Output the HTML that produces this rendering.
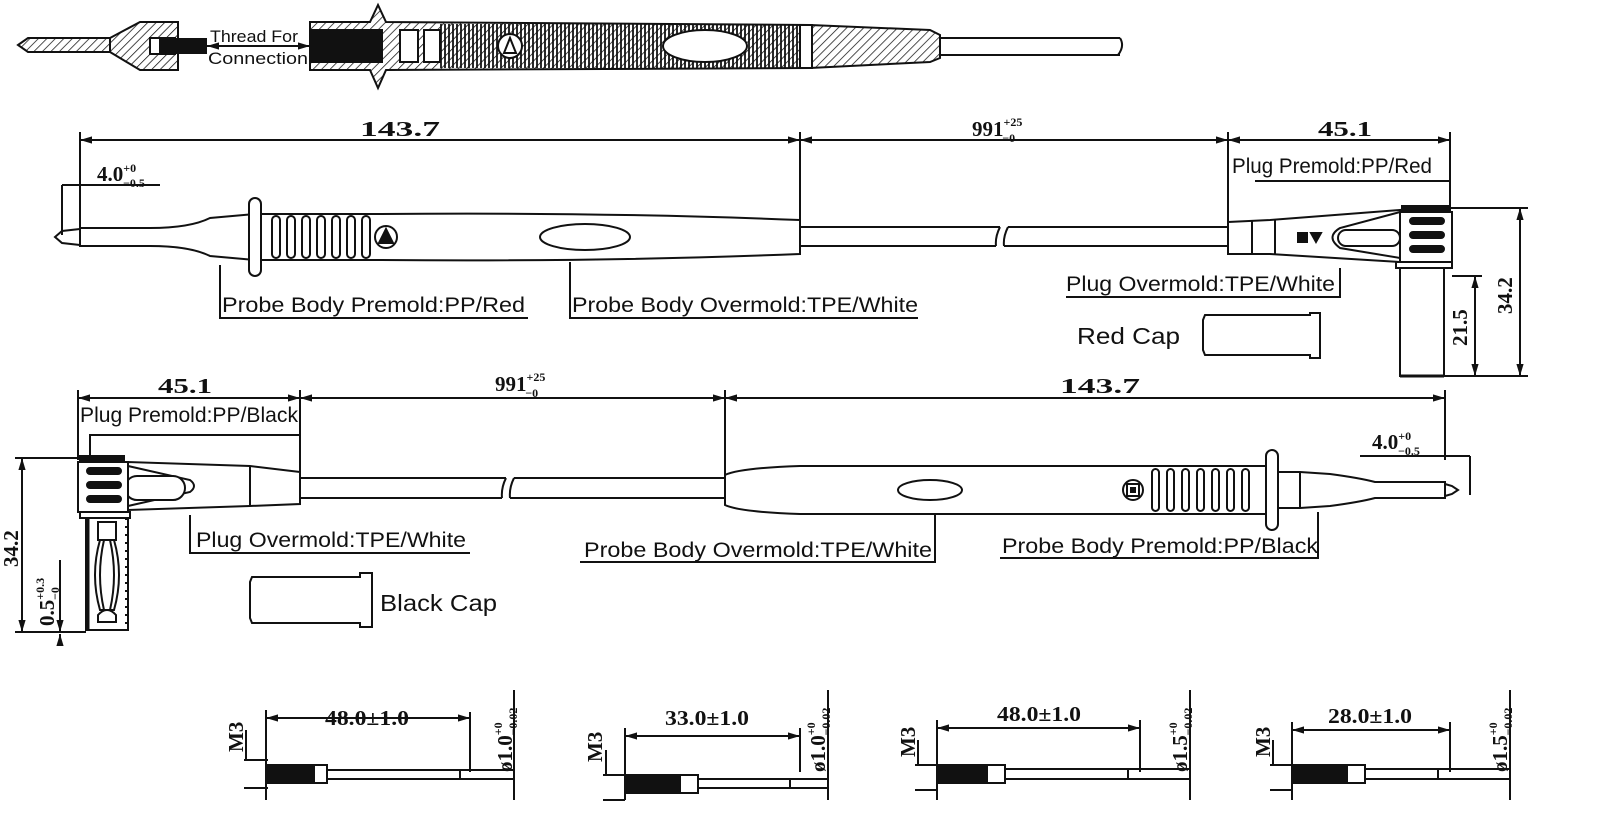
<!DOCTYPE html>
<html><head><meta charset="utf-8"><style>
html,body{margin:0;padding:0;background:#fff;}
svg{display:block;}
.l{font-family:"Liberation Sans",sans-serif;font-size:21px;fill:#111;}
.d{font-family:"Liberation Serif",serif;font-weight:bold;font-size:21px;fill:#111;}
.s{font-family:"Liberation Serif",serif;font-weight:bold;font-size:12px;fill:#111;}
</style></head><body>
<svg width="1600" height="824" viewBox="0 0 1600 824" xmlns="http://www.w3.org/2000/svg">
<defs>
<pattern id="h" width="6" height="6" patternUnits="userSpaceOnUse" patternTransform="rotate(45)"><line x1="0" y1="0" x2="0" y2="6" stroke="#111" stroke-width="1.5"/></pattern>
<pattern id="v" width="4" height="4" patternUnits="userSpaceOnUse"><line x1="1" y1="0" x2="1" y2="4" stroke="#111" stroke-width="1.8"/></pattern>
<marker id="a" viewBox="0 0 10 10" refX="10" refY="5" markerWidth="6" markerHeight="6" orient="auto-start-reverse"><path d="M0,2 L10,5 L0,8z" fill="#111"/></marker>
</defs>
<g fill="none" stroke="#111" stroke-width="2">
<!-- TOP SECTION -->
<path d="M18,45 L28,38 L110,38 L110,52 L28,52 Z" fill="url(#h)"/>
<path d="M110,38 L140,22 L178,22 L178,70 L140,70 L110,52" fill="url(#h)"/>
<rect x="150" y="38" width="25" height="16" fill="#fff"/>
<rect x="160" y="39" width="46" height="14" fill="#111"/>
<line x1="207" y1="46" x2="310" y2="46" marker-start="url(#a)" marker-end="url(#a)"/>
<path d="M310,22 L370,22 L378,5 L386,22 L810,25 L930,30 L940,35 L940,58 L930,62 L810,68 L386,70 L378,88 L370,70 L310,70 Z" fill="url(#h)"/>
<rect x="440" y="24" width="370" height="44" fill="url(#v)" stroke="none"/>
<rect x="312" y="30" width="70" height="32" fill="#111"/>
<rect x="400" y="30" width="18" height="32" fill="#fff"/>
<rect x="424" y="30" width="16" height="32" fill="#fff"/>
<circle cx="510" cy="46" r="12" fill="#fff"/>
<path d="M504,53 L510,38 L516,53Z"/>
<ellipse cx="705" cy="46" rx="42" ry="16" fill="#fff"/>
<rect x="800" y="25" width="12" height="43" fill="#fff"/>
<path d="M940,38 L1120,38 M940,55 L1120,55 M1120,38 Q1125,46 1118,55"/>
</g>
<text class="l" x="210" y="42" style="font-size:17px" textLength="88" lengthAdjust="spacingAndGlyphs">Thread For</text>
<text class="l" x="208" y="64" style="font-size:17px" textLength="100" lengthAdjust="spacingAndGlyphs">Connection</text>

<g fill="none" stroke="#111" stroke-width="2">
<!-- ROW 1 dims -->
<line x1="80" y1="140" x2="800" y2="140" marker-start="url(#a)" marker-end="url(#a)"/>
<line x1="800" y1="140" x2="1228" y2="140" marker-start="url(#a)" marker-end="url(#a)"/>
<line x1="1228" y1="140" x2="1450" y2="140" marker-start="url(#a)" marker-end="url(#a)"/>
<line x1="80" y1="132" x2="80" y2="230"/><line x1="800" y1="132" x2="800" y2="222"/>
<line x1="1228" y1="132" x2="1228" y2="222"/><line x1="1450" y1="132" x2="1450" y2="180"/>
<line x1="62" y1="185" x2="160" y2="185"/><line x1="62" y1="185" x2="62" y2="235"/>
<!-- probe 1 -->
<path d="M55,237 L62,231 L80,229 L80,245 L62,243 Z"/>
<path d="M80,228 L150,228 Q190,228 210,218 L255,214 L255,260 L210,256 Q190,246 150,246 L80,246 Z" fill="#fff"/>
<rect x="249" y="198" width="12" height="78" rx="6" fill="#fff"/>
<path d="M261,214 L380,214 Q600,212 800,220 L800,254 Q600,262 380,260 L261,260 Z" fill="#fff"/>
<g><rect x="272" y="216" width="8" height="42" rx="4"/><rect x="287" y="216" width="8" height="42" rx="4"/><rect x="302" y="216" width="8" height="42" rx="4"/><rect x="317" y="216" width="8" height="42" rx="4"/><rect x="332" y="216" width="8" height="42" rx="4"/><rect x="347" y="216" width="8" height="42" rx="4"/><rect x="362" y="216" width="8" height="42" rx="4"/></g>
<circle cx="386" cy="237" r="11"/><path d="M379,243 L386,229 L393,243Z" fill="#111"/>
<ellipse cx="585" cy="237" rx="45" ry="13"/>
<path d="M800,227 L1000,227 M1008,227 L1228,227 M800,246 L996,246 M1004,246 L1228,246 M1000,227 Q995,237 996,246 M1008,227 Q1003,237 1004,246"/>
<!-- plug 1 -->
<path d="M1228,222 L1270,220 L1400,210 L1400,262 L1270,254 L1228,254 Z" fill="#fff"/>
<line x1="1252" y1="221" x2="1252" y2="254"/><line x1="1275" y1="219" x2="1275" y2="255"/>
<path d="M1400,212 L1340,228 Q1325,237 1340,248 L1400,258"/>
<rect x="1338" y="230" width="62" height="16" rx="8" fill="#fff"/>
<rect x="1400" y="212" width="52" height="50" fill="#fff"/>
<rect x="1402" y="206" width="48" height="6" fill="#111"/>
<rect x="1410" y="218" width="34" height="6" rx="3" fill="#111"/><rect x="1410" y="232" width="34" height="6" rx="3" fill="#111"/><rect x="1410" y="246" width="34" height="6" rx="3" fill="#111"/>
<rect x="1396" y="262" width="56" height="6" fill="#fff"/>
<rect x="1400" y="268" width="44" height="108" fill="#fff"/>
<line x1="1400" y1="376" x2="1444" y2="376" stroke-width="3"/>
<rect x="1298" y="233" width="9" height="9" fill="#111"/><path d="M1311,233 L1321,233 L1316,242Z" fill="#111"/>
<!-- labels row 1 -->
<path d="M220,265 L220,318 L528,318 M570,262 L570,318 L918,318 M1066,297 L1340,297 L1340,268 M1255,181 L1450,181 L1450,206"/>
<path d="M1405,208 L1528,208 M1444,376 L1528,376 M1452,276 L1482,276"/>
<line x1="1520" y1="208" x2="1520" y2="376" marker-start="url(#a)" marker-end="url(#a)"/>
<line x1="1475" y1="276" x2="1475" y2="376" marker-start="url(#a)" marker-end="url(#a)"/>
<path d="M1205,315 L1310,315 L1310,313 L1320,313 L1320,358 L1310,358 L1310,355 L1205,355 L1203,350 L1203,320 Z"/>

<!-- ROW 2 dims -->
<line x1="78" y1="398" x2="300" y2="398" marker-start="url(#a)" marker-end="url(#a)"/>
<line x1="300" y1="398" x2="725" y2="398" marker-start="url(#a)" marker-end="url(#a)"/>
<line x1="725" y1="398" x2="1445" y2="398" marker-start="url(#a)" marker-end="url(#a)"/>
<line x1="78" y1="390" x2="78" y2="460"/><line x1="300" y1="390" x2="300" y2="472"/>
<line x1="725" y1="390" x2="725" y2="475"/><line x1="1445" y1="390" x2="1445" y2="460"/>
<line x1="1360" y1="456" x2="1470" y2="456"/><line x1="1470" y1="456" x2="1470" y2="495"/>
<!-- plug 2 -->
<path d="M300,472 L250,466 L128,462 L128,510 L250,506 L300,504 Z" fill="#fff"/>
<line x1="250" y1="466" x2="250" y2="506"/>
<path d="M128,466 L190,480 Q198,486 190,492 L128,506"/>
<rect x="125" y="476" width="60" height="24" rx="12" fill="#fff"/>
<rect x="78" y="462" width="50" height="50" fill="#fff"/>
<rect x="80" y="456" width="44" height="6" fill="#111"/>
<rect x="87" y="468" width="34" height="6" rx="3" fill="#111"/><rect x="87" y="482" width="34" height="6" rx="3" fill="#111"/><rect x="87" y="496" width="34" height="6" rx="3" fill="#111"/>
<rect x="80" y="512" width="50" height="6" fill="#fff"/>
<rect x="86" y="518" width="42" height="112" fill="#fff"/>
<line x1="88" y1="518" x2="88" y2="630" stroke-width="3"/><line x1="126" y1="518" x2="126" y2="630" stroke-width="2" stroke-dasharray="2,6"/>
<path d="M98,522 L116,522 L116,540 L98,540 Z M100,540 Q90,575 100,610 L114,610 Q124,575 114,540"/>
<path d="M104,540 Q96,575 104,610 M110,540 Q118,575 110,610"/>
<path d="M98,615 Q107,605 116,615 L116,622 L98,622 Z"/>
<path d="M300,478 L506,478 M514,478 L725,478 M300,498 L502,498 M510,498 L725,498 M506,478 Q501,488 502,498 M514,478 Q509,488 510,498"/>
<!-- probe 2 -->
<path d="M725,475 Q740,468 800,466 L1268,466 L1268,514 L800,514 Q740,512 725,505 Z" fill="#fff"/>
<ellipse cx="930" cy="490" rx="32" ry="10"/>
<circle cx="1133" cy="490" r="10"/><rect x="1127" y="484" width="12" height="12"/><rect x="1131" y="488" width="4" height="4" fill="#111"/>
<g><rect x="1152" y="469" width="7" height="42" rx="3.5"/><rect x="1167" y="469" width="7" height="42" rx="3.5"/><rect x="1182" y="469" width="7" height="42" rx="3.5"/><rect x="1197" y="469" width="7" height="42" rx="3.5"/><rect x="1212" y="469" width="7" height="42" rx="3.5"/><rect x="1227" y="469" width="7" height="42" rx="3.5"/><rect x="1242" y="469" width="7" height="42" rx="3.5"/></g>
<rect x="1266" y="450" width="12" height="80" rx="6" fill="#fff"/>
<path d="M1278,472 L1300,472 L1330,474 Q1360,478 1375,482 L1445,482 L1445,498 L1375,498 Q1360,502 1330,506 L1300,508 L1278,508 Z" fill="#fff"/>
<line x1="1300" y1="472" x2="1300" y2="508"/>
<path d="M1445,484 L1452,486 L1458,490 L1452,494 L1445,496"/>
<!-- labels row 2 -->
<path d="M90,455 L90,435 L300,435 M190,515 L190,553 L470,553 M935,515 L935,562 L580,562 M1318,512 L1318,558 L1000,558"/>
<path d="M15,458 L78,458 M15,632 L86,632"/>
<line x1="22" y1="458" x2="22" y2="632" marker-start="url(#a)" marker-end="url(#a)"/>
<line x1="60" y1="560" x2="60" y2="632" marker-end="url(#a)"/><line x1="60" y1="646" x2="60" y2="634" marker-end="url(#a)"/>
<path d="M252,577 L360,577 L360,573 L372,573 L372,627 L360,627 L360,623 L252,623 L250,618 L250,582 Z"/>

<!-- BOTTOM ROW -->
<line x1="266" y1="718" x2="470" y2="718" marker-start="url(#a)" marker-end="url(#a)"/>
<path d="M266,710 L266,800 M470,712 L470,772 M514,690 L514,800 M244,760 L268,760 M244,788 L268,788 M246,730 L246,760"/>
<rect x="266" y="765" width="50" height="18" fill="#111"/>
<rect x="314" y="765" width="13" height="18" fill="#fff"/>
<path d="M327,770 L514,770 M327,779 L514,779 M460,770 L460,779"/>

<line x1="625" y1="736" x2="800" y2="736" marker-start="url(#a)" marker-end="url(#a)"/>
<path d="M625,728 L625,800 M800,728 L800,772 M828,690 L828,800 M603,775 L625,775 M603,800 L625,800 M606,750 L606,775"/>
<rect x="625" y="775" width="55" height="18" fill="#111"/><rect x="680" y="775" width="18" height="18" fill="#fff"/>
<path d="M698,779 L828,779 M698,788 L828,788 M790,779 L790,788"/>

<line x1="937" y1="728" x2="1140" y2="728" marker-start="url(#a)" marker-end="url(#a)"/>
<path d="M937,720 L937,800 M1140,720 L1140,772 M1190,690 L1190,800 M915,765 L937,765 M915,790 L937,790 M918,740 L918,765"/>
<rect x="937" y="765" width="50" height="18" fill="#111"/><rect x="987" y="765" width="18" height="18" fill="#fff"/>
<path d="M1005,769 L1190,769 M1005,779 L1190,779 M1128,769 L1128,779"/>

<line x1="1292" y1="730" x2="1450" y2="730" marker-start="url(#a)" marker-end="url(#a)"/>
<path d="M1292,722 L1292,800 M1450,722 L1450,772 M1510,690 L1510,800 M1270,765 L1292,765 M1270,790 L1292,790 M1273,740 L1273,765"/>
<rect x="1292" y="765" width="55" height="18" fill="#111"/><rect x="1347" y="765" width="18" height="18" fill="#fff"/>
<path d="M1365,769 L1510,769 M1365,779 L1510,779 M1438,769 L1438,779"/>
</g>

<!-- TEXT -->
<text class="d" x="360" y="136" textLength="80" lengthAdjust="spacingAndGlyphs">143.7</text>
<text class="d" x="972" y="136">991<tspan class="s" dy="-10">+25</tspan><tspan class="s" dx="-20" dy="16">−0</tspan></text>
<text class="d" x="1318" y="136" textLength="54" lengthAdjust="spacingAndGlyphs">45.1</text>
<text class="d" x="97" y="181">4.0<tspan class="s" dy="-9">+0</tspan><tspan class="s" dx="-13" dy="15">−0.5</tspan></text>
<text class="l" x="1232" y="173" textLength="200" lengthAdjust="spacingAndGlyphs">Plug Premold:PP/Red</text>
<text class="l" x="222" y="312" textLength="303" lengthAdjust="spacingAndGlyphs">Probe Body Premold:PP/Red</text>
<text class="l" x="572" y="312" textLength="346" lengthAdjust="spacingAndGlyphs">Probe Body Overmold:TPE/White</text>
<text class="l" x="1066" y="291" textLength="269" lengthAdjust="spacingAndGlyphs">Plug Overmold:TPE/White</text>
<text class="l" x="1077" y="344" style="font-size:23px" textLength="103" lengthAdjust="spacingAndGlyphs">Red Cap</text>
<text class="d" transform="translate(1512,314) rotate(-90)">34.2</text>
<text class="d" transform="translate(1467,346) rotate(-90)">21.5</text>

<text class="d" x="158" y="393" textLength="54" lengthAdjust="spacingAndGlyphs">45.1</text>
<text class="d" x="495" y="391">991<tspan class="s" dy="-10">+25</tspan><tspan class="s" dx="-20" dy="16">−0</tspan></text>
<text class="d" x="1060" y="393" textLength="80" lengthAdjust="spacingAndGlyphs">143.7</text>
<text class="d" x="1372" y="449">4.0<tspan class="s" dy="-9">+0</tspan><tspan class="s" dx="-13" dy="15">−0.5</tspan></text>
<text class="l" x="80" y="422" textLength="218" lengthAdjust="spacingAndGlyphs">Plug Premold:PP/Black</text>
<text class="l" x="196" y="547" textLength="270" lengthAdjust="spacingAndGlyphs">Plug Overmold:TPE/White</text>
<text class="l" x="584" y="557" textLength="348" lengthAdjust="spacingAndGlyphs">Probe Body Overmold:TPE/White</text>
<text class="l" x="1002" y="553" textLength="316" lengthAdjust="spacingAndGlyphs">Probe Body Premold:PP/Black</text>
<text class="l" x="380" y="611" style="font-size:23px" textLength="117" lengthAdjust="spacingAndGlyphs">Black Cap</text>
<text class="d" transform="translate(18,567) rotate(-90)">34.2</text>
<text class="d" transform="translate(54,626) rotate(-90)">0.5<tspan class="s" dy="-10">+0.3</tspan><tspan class="s" dx="-22" dy="15">−0</tspan></text>

<text class="d" x="325" y="725" textLength="84" lengthAdjust="spacingAndGlyphs">48.0±1.0</text>
<text class="d" transform="translate(243,752) rotate(-90)">M3</text>
<text class="d" transform="translate(512,772) rotate(-90)">ø1.0<tspan class="s" dy="-10">+0</tspan><tspan class="s" dx="-13" dy="15">−0.02</tspan></text>
<text class="d" x="665" y="725" textLength="84" lengthAdjust="spacingAndGlyphs">33.0±1.0</text>
<text class="d" transform="translate(602,762) rotate(-90)">M3</text>
<text class="d" transform="translate(825,772) rotate(-90)">ø1.0<tspan class="s" dy="-10">+0</tspan><tspan class="s" dx="-13" dy="15">−0.02</tspan></text>
<text class="d" x="997" y="721" textLength="84" lengthAdjust="spacingAndGlyphs">48.0±1.0</text>
<text class="d" transform="translate(915,757) rotate(-90)">M3</text>
<text class="d" transform="translate(1187,772) rotate(-90)">ø1.5<tspan class="s" dy="-10">+0</tspan><tspan class="s" dx="-13" dy="15">−0.02</tspan></text>
<text class="d" x="1328" y="723" textLength="84" lengthAdjust="spacingAndGlyphs">28.0±1.0</text>
<text class="d" transform="translate(1270,757) rotate(-90)">M3</text>
<text class="d" transform="translate(1507,772) rotate(-90)">ø1.5<tspan class="s" dy="-10">+0</tspan><tspan class="s" dx="-13" dy="15">−0.02</tspan></text>
</svg>
</body></html>
